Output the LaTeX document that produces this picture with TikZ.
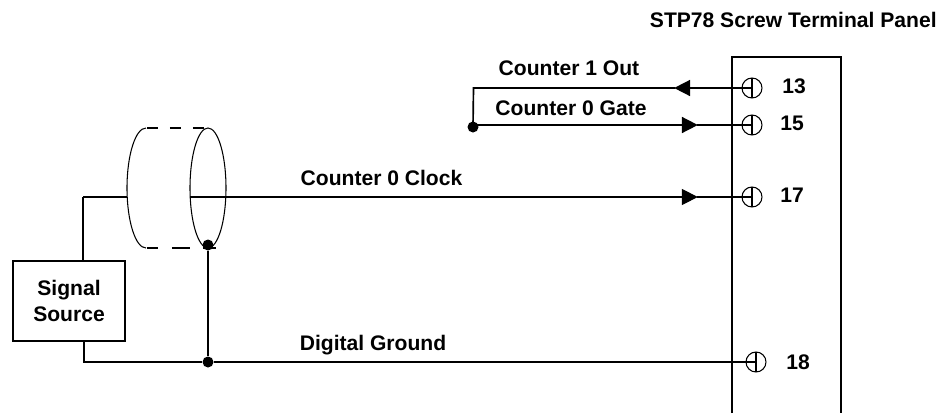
\documentclass[tikz,border=0pt]{standalone}
\usepackage{fontspec}
\setmainfont{Liberation Sans}
\usetikzlibrary{arrows.meta, shapes.geometric}

\tikzset{
    wire/.style={line width=0.95pt},
    thinwire/.style={line width=0.6pt},
    lbl/.style={font=\fontsize{12}{15.3}\selectfont\bfseries, inner sep=0pt, align=center},
    term/.style={circle, draw, thinwire, minimum size=0.4cm, inner sep=0pt,
        path picture={\draw[thinwire] (path picture bounding box.north) -- (path picture bounding box.south);}},
    dot/.style={circle, fill=black, minimum size=0.22cm, inner sep=0pt},
    tip/.style={-{Triangle[length=0.32cm, width=0.32cm]}, shorten >=-0.5pt}
}

\begin{document}
\begin{tikzpicture}[x=0.02cm, y=-0.02cm]
    \useasboundingbox (0, 0) rectangle (941, 413);

    % screw terminal panel
    \node[lbl, anchor=east] (panel) at (937, 20) {STP78 Screw Terminal Panel};
    \coordinate (panelbl) at (732, 413);
    \coordinate (paneltl) at (732, 57);
    \coordinate (paneltr) at (841, 57);
    \coordinate (panelbr) at (841, 413);
    \draw[wire] (panelbl) -- (paneltl) -- (paneltr) -- (panelbr);

    \node[term] (t13) at (752, 88) {};
    \node[term] (t15) at (752, 125) {};
    \node[term] (t17) at (752, 197) {};
    \node[term] (t18) at (756, 362) {};

    \node[lbl] (n13) at (794, 86) {13};
    \node[lbl] (n15) at (792, 123) {15};
    \node[lbl] (n17) at (792, 195) {17};
    \node[lbl] (n18) at (798, 362) {18};

    % source and shield
    \node[draw, wire, minimum width=2.24cm, minimum height=1.6cm, inner sep=0pt] (source) at (69, 301) {};
    \node[lbl] (sourcetext) at (69, 301) {Signal\\Source};

    \node[ellipse, draw, thinwire, minimum width=0.72cm, minimum height=2.4cm, inner sep=0pt] (shield) at (208, 188) {};
    \draw[thinwire] (146, 128) .. controls (135.5, 128) and (127, 155) .. (127, 188)
        .. controls (127, 221) and (135.5, 248) .. (146, 248);
    \coordinate (shieldtl) at (147, 128);
    \coordinate (shieldtr) at (207, 128);
    \coordinate (shieldbl) at (147, 248);
    \coordinate (shieldbr) at (216, 248);
    \draw[wire, dash pattern=on 0.22cm off 0.24cm] (shieldtl) -- (shieldtr);
    \draw[wire, dash pattern=on 0.22cm off 0.28cm on 0.36cm off 0.26cm on 0.26cm off 0.2cm] (shieldbl) -- (shieldbr);

    \node[dot] (dotshield) at (208, 245) {};
    \node[dot] (dotground) at (208, 362) {};
    \node[dot] (dotgate) at (473, 127) {};

    % wires
    \coordinate (tip13) at (675, 88);
    \coordinate (tip15) at (697, 125);
    \coordinate (tip17) at (697, 197);
    \coordinate (corner13) at (473.5, 88);
    \coordinate (gatestart) at (473, 125);
    \coordinate (clockin) at (190, 197);
    \coordinate (shieldleft) at (127, 197);
    \coordinate (srcup) at (83, 197);

    \draw[wire, tip] (t13.center) -- (tip13);
    \draw[wire] (tip13) -- (corner13) -- (dotgate.center);
    \draw[wire, tip] (gatestart) -- (tip15);
    \draw[wire] (tip15) -- (t15.center);
    \draw[thinwire, tip] (clockin) -- (tip17);
    \draw[thinwire] (tip17) -- (t17.center);
    \draw[wire] (83, 261) -- (srcup);
    \draw[thinwire] (srcup) -- (shieldleft);
    \draw[wire] (dotshield) -- (dotground);
    \draw[wire] (84, 341) |- (dotground);
    \draw[wire] (dotground) -- (t18.center);

    % signal names
    \node[lbl] (out) at (569, 68) {Counter 1 Out};
    \node[lbl] (gate) at (571, 108) {Counter 0 Gate};
    \node[lbl] (clock) at (381.5, 178) {Counter 0 Clock};
    \node[lbl] (ground) at (373, 345) {Digital Ground};
\end{tikzpicture}
\end{document}
